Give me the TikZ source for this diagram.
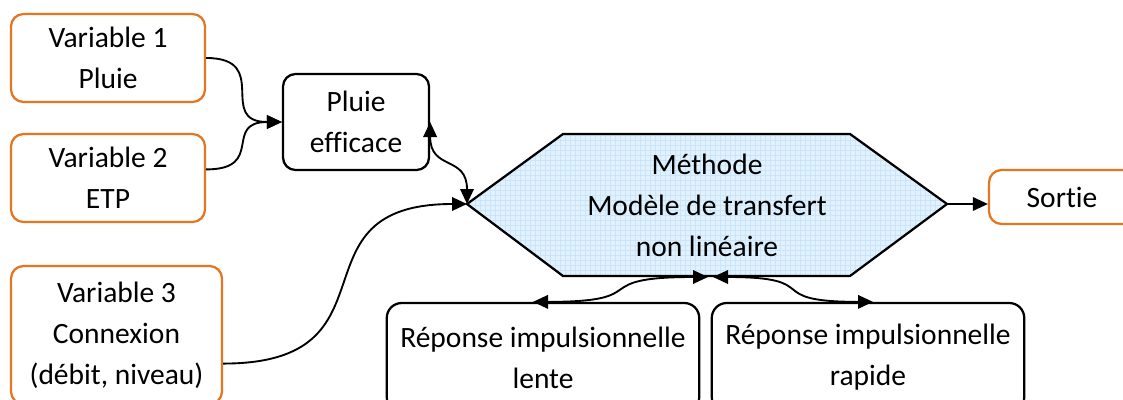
\documentclass[tikz,border=0pt]{standalone}
\usepackage{fontspec}
\setmainfont{Carlito}[Ligatures=NoCommon]
\usepackage{tikz}
\usetikzlibrary{arrows.meta}

\definecolor{varorange}{RGB}{228,117,33}
\definecolor{hexfill}{RGB}{225,241,253}
\definecolor{hexgrid}{RGB}{202,228,250}

\begin{document}
\begin{tikzpicture}
    [
    x=0.4pt,y=-0.4pt,
    font=\fontsize{11.8}{16.4}\selectfont,
    roundbox/.style={draw,rounded corners=5pt,line width=0.9pt,align=center,inner sep=0pt},
    varbox/.style={roundbox,draw=varorange,minimum width=77.6pt,minimum height=35.2pt},
    repbox/.style={roundbox,rounded corners=6pt,minimum width=125pt,minimum height=43.6pt},
    conn/.style={-{Triangle[length=6pt,width=5.4pt]},line width=0.75pt},
    dconn/.style={{Triangle[length=6pt,width=5.4pt]}-{Triangle[length=6pt,width=5.4pt]},line width=0.75pt},
    ]
    \useasboundingbox (0,0) rectangle (1123,399);

    % entrees
    \node (v1) at (108,58) [varbox] {Variable 1\\Pluie};
    \node (v2) at (108,178) [varbox] {Variable 2\\ETP};
    \node (v3) at (116.5,335) [varbox,minimum width=84.4pt,minimum height=55.2pt] {Variable 3\\Connexion\\(débit, niveau)};
    \node (eff) at (356,122) [roundbox,minimum width=58.4pt,minimum height=38.4pt] {Pluie\\efficace};
    \node (sortie) at (1062,197) [varbox,minimum width=58.4pt,minimum height=21.6pt] {Sortie};

    % methode
    \coordinate (hexW) at (467,204);
    \coordinate (hexE) at (947,204);
    \coordinate (hexS1) at (708,277);
    \coordinate (hexS2) at (713,277);
    \path [draw,line width=0.9pt,fill=hexfill,
      path picture={\draw [hexgrid,line width=0.3pt,step=2pt]
        (path picture bounding box.south west) grid (path picture bounding box.north east);}]
      (hexW) -- (563,134) -- (850,134) -- (hexE) -- (850,276) -- (563,276) -- cycle;
    \node (meth) at (707,205) [align=center] {Méthode\\Modèle de transfert\\non linéaire};

    % reponses
    \node (lente) at (543,357.5) [repbox] {Réponse impulsionnelle\\lente};
    \node (rapide) at (868,357.5) [repbox] {Réponse impulsionnelle\\rapide};

    \draw [conn] (v1.east) to[out=0,in=180,looseness=1.7] (eff.west);
    \draw [conn] (v2.5) to[out=0,in=180,looseness=1.7] (eff.west);
    \draw [dconn] (eff.east) to[out=-90,in=90,looseness=1.4] (hexW);
    \draw [conn] (v3.-15) to[out=0,in=180,looseness=1.6] (hexW);
    \draw [conn] (hexE) -- (hexE -| sortie.west);
    \draw [dconn] ([xshift=-4pt]lente.north) to[out=0,in=180,looseness=1.8] (hexS1);
    \draw [dconn] (hexS2) to[out=0,in=180,looseness=1.8] ([xshift=2pt]rapide.north);
  \end{tikzpicture}
\end{document}
